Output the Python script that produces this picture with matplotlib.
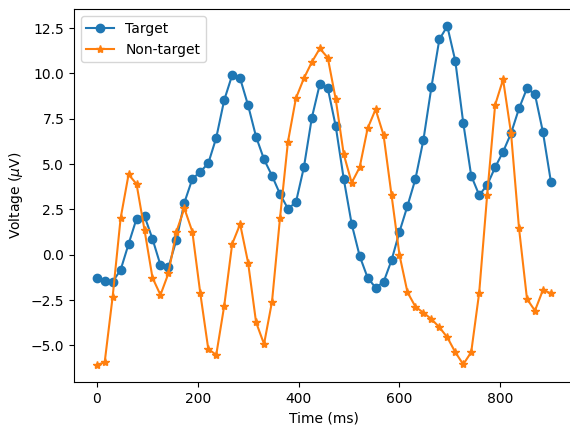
import numpy as np
import matplotlib
matplotlib.use("Agg")
import matplotlib.pyplot as plt

# time axis: 58 samples from 0 to 900 ms
t_ms = np.linspace(0, 900, 58)

target = [-1.30, -1.43, -1.49, -0.84, 0.59, 1.99, 2.13, 0.87, -0.57, -0.70,
          0.81, 2.87, 4.18, 4.58, 5.04, 6.45, 8.53, 9.91, 9.73, 8.24,
          6.51, 5.26, 4.36, 3.35, 2.54, 2.89, 4.82, 7.56, 9.42, 9.19,
          7.08, 4.19, 1.69, -0.07, -1.27, -1.82, -1.51, -0.31, 1.27, 2.69,
          4.18, 6.33, 9.23, 11.88, 12.61, 10.70, 7.28, 4.36, 3.29, 3.84,
          4.82, 5.68, 6.70, 8.07, 9.18, 8.85, 6.77, 4.03]

nontarget = [-6.08, -5.94, -2.32, 2.01, 4.43, 3.90, 1.36, -1.27, -2.22, -1.03,
             1.27, 2.56, 1.27, -2.13, -5.20, -5.53, -2.83, 0.59, 1.69, -0.44,
             -3.73, -4.93, -2.59, 2.01, 6.23, 8.63, 9.73, 10.63, 11.38, 10.87,
             8.57, 5.55, 3.97, 4.82, 6.97, 8.02, 6.60, 3.29, -0.02, -2.07,
             -2.87, -3.20, -3.55, -4.00, -4.56, -5.38, -6.05, -5.38, -2.10, 3.29,
             8.26, 9.67, 6.70, 1.46, -2.44, -3.09, -1.95, -2.13]

fig = plt.figure(figsize=(5.7, 4.25), dpi=100)
ax = fig.add_axes([74 / 570, 0.1016, 499.6 / 570, 0.8766])
ax.plot(t_ms, target, "-o", color="tab:blue", label="Target")
ax.plot(t_ms, nontarget, "-*", color="tab:orange", label="Non-target")
ax.set_xlabel("Time (ms)")
ax.set_ylabel("Voltage ($\\mu$V)")
ax.legend(loc="upper left")

fig.savefig("out.png", dpi=100)
